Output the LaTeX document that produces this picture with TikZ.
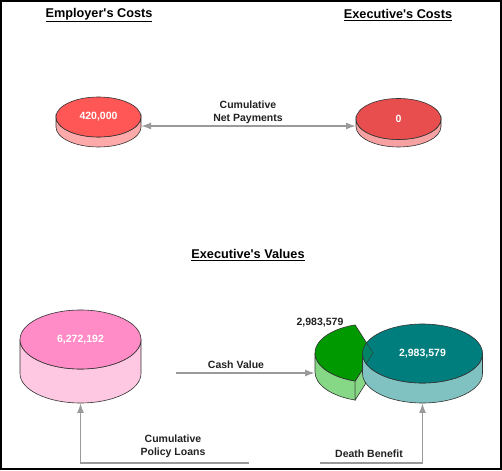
\documentclass[tikz,border=0pt]{standalone}
\usepackage{fontspec}
\setmainfont{Liberation Sans}[Ligatures=TeXOff]
\usetikzlibrary{arrows.meta}
\definecolor{edgec}{HTML}{333333}
\definecolor{arrowgray}{HTML}{9A9A9A}
\definecolor{redtopA}{HTML}{FF5656}
\definecolor{redsideA}{HTML}{FFAAAA}
\definecolor{redtopB}{HTML}{E84E4E}
\definecolor{redsideB}{HTML}{F6A2A2}
\definecolor{pinktop}{HTML}{FF8CC6}
\definecolor{pinkside}{HTML}{FFC8E2}
\definecolor{tealtop}{HTML}{007E7E}
\definecolor{tealside}{HTML}{80C2C2}
\definecolor{greentop}{HTML}{009A00}
\definecolor{greenside}{HTML}{86D886}
\definecolor{textdark}{HTML}{222222}
\newcommand{\drawcyl}[7]{%
  \path[fill=#7,draw=edgec,line width=0.6pt] (#1-#3,#2) -- (#1-#3,#2-#5)
    arc[start angle=180,end angle=360,x radius=#3,y radius=#4] -- (#1+#3,#2)
    arc[start angle=0,end angle=-180,x radius=#3,y radius=#4] -- cycle;
  \path[fill=#6,draw=edgec,line width=0.6pt] (#1,#2) ellipse[x radius=#3,y radius=#4];
}
\tikzset{
  title/.style={font=\fontsize{12.7}{14}\selectfont\bfseries, text=black, inner sep=0pt},
  lbl/.style={font=\fontsize{10.5}{13}\selectfont\bfseries, text=textdark, inner sep=0pt, align=center},
  disctext/.style={font=\fontsize{10.5}{12}\selectfont\bfseries, text=white, inner sep=0pt},
  conn/.style={draw=arrowgray, line width=1.6pt},
  tipR/.style={-{Latex[length=10pt,width=7pt]}},
  tipLR/.style={{Latex[length=10pt,width=7pt]}-{Latex[length=10pt,width=7pt]}}
}
\begin{document}
\begin{tikzpicture}[x=1pt,y=1pt]
\useasboundingbox (0,0) rectangle (502,470);
\fill[white] (0,0) rectangle (502,470);
\draw[line width=2pt] (1,1) rectangle (501,469);

% titles
\node[title] (t1) at (99,455) {\underline{Employer's Costs}};
\node[title] (t2) at (398,455) {\underline{Executive's Costs}};
\node[title] (t3) at (248,215) {\underline{Executive's Values}};

% top discs
\drawcyl{98.5}{353}{42.5}{20}{10}{redtopA}{redsideA}
\node[disctext] (emp) at (98.5,353) {420,000};
\drawcyl{398.5}{351}{42.5}{20.5}{7.5}{redtopB}{redsideB}
\node[disctext] (exe) at (398.5,351) {0};

\coordinate (empR) at (141,344);
\coordinate (exeL) at (356,344);
\draw[conn,tipLR] (empR) -- (exeL);
\node[lbl] (np) at (248,357.5) {Cumulative\\Net Payments};

% pink cylinder
\drawcyl{80.5}{130.5}{60.5}{29.5}{34}{pinktop}{pinkside}
\node[disctext] (pink) at (80.5,130.5) {6,272,192};

% green wedge
\path[fill=greenside,draw=edgec,line width=0.6pt] (315,117) -- (315,98)
  arc[start angle=180,end angle=252,x radius=58,y radius=29.5] -- ++(0,19)
  arc[start angle=252,end angle=180,x radius=58,y radius=29.5] -- cycle;
\path[fill=greenside,draw=edgec,line width=0.6pt] (355.1,88.9) -- (355.1,69.9) -- (373,98) -- (373,117) -- cycle;
\path[fill=greentop,draw=edgec,line width=0.6pt] (373,117) -- (355.1,145.1)
  arc[start angle=108,end angle=252,x radius=58,y radius=29.5] -- cycle;
\node[font=\fontsize{10.5}{12}\selectfont\bfseries, text=textdark, inner sep=0pt] (gl) at (320,147.5) {2,983,579};

% teal cylinder
\path[fill=tealside,draw=edgec,line width=0.6pt] (362.5,116.5) -- (362.5,96.5)
  arc[start angle=180,end angle=360,x radius=60,y radius=29.5] -- (482.5,116.5)
  arc[start angle=0,end angle=-180,x radius=60,y radius=29.5] -- cycle;
\path[fill=tealtop,draw=edgec,line width=0.6pt] (422.5,116.5) ellipse[x radius=60,y radius=29.5];
% green wedge seen through the teal disc
\begin{scope}
  \clip (422.5,116.5) ellipse[x radius=60,y radius=29.5];
  \path[fill=greentop,fill opacity=0.18,draw=edgec,draw opacity=0.7,line width=0.6pt] (373,117) -- (355.1,145.1)
    arc[start angle=108,end angle=252,x radius=58,y radius=29.5] -- cycle;
\end{scope}
\node[disctext] (teal) at (422.5,116.5) {2,983,579};

% cash value
\coordinate (cvS) at (176,97);
\coordinate (cvE) at (315,97);
\draw[conn,tipR] (cvS) -- (cvE);
\node[lbl] (cv) at (236,105) {Cash Value};

% policy loans
\coordinate (plS) at (249,7);
\coordinate (plC) at (80.5,7);
\coordinate (plE) at (80.5,67);
\draw[conn,tipR] (plS) -- (plC) -- (plE);
\node[lbl] (pl) at (173,23.5) {Cumulative\\Policy Loans};

% death benefit
\coordinate (dbS) at (320,7);
\coordinate (dbC) at (422.5,7);
\coordinate (dbE) at (422.5,67);
\draw[conn,tipR] (dbS) -- (dbC) -- (dbE);
\node[lbl] (db) at (369,16.5) {Death Benefit};
\end{tikzpicture}
\end{document}
